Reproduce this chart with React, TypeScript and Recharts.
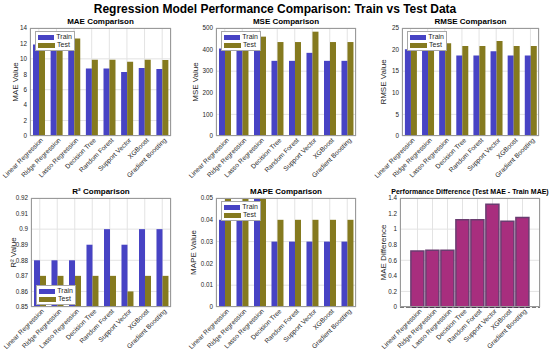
import React from 'react';
import { BarChart, Bar, XAxis, YAxis, CartesianGrid, ReferenceLine } from 'recharts';

const models = [
  'Linear Regression',
  'Ridge Regression',
  'Lasso Regression',
  'Decision Tree',
  'Random Forest',
  'Support Vector',
  'XGBoost',
  'Gradient Boosting',
];

const maeTrain = [11.85, 11.85, 11.9, 8.75, 8.75, 8.3, 8.8, 8.7];
const maeTest = [12.57, 12.58, 12.63, 9.87, 9.87, 9.62, 9.9, 9.85];
const mseTrain = [405, 405, 408, 348, 348, 385, 348, 348];
const mseTest = [455, 455, 460, 435, 435, 483, 435, 435];
const rmseTrain = [20.1, 20.1, 20.2, 18.65, 18.65, 19.6, 18.65, 18.65];
const rmseTest = [21.3, 21.3, 21.45, 20.85, 20.85, 22.0, 20.85, 20.85];
const r2Train = [0.88, 0.88, 0.88, 0.89, 0.9, 0.89, 0.9, 0.9];
const r2Test = [0.87, 0.87, 0.87, 0.87, 0.87, 0.86, 0.87, 0.87];
const mapeTrain = [0.04, 0.04, 0.05, 0.03, 0.03, 0.03, 0.03, 0.03];
const mapeTest = [0.05, 0.05, 0.05, 0.04, 0.04, 0.04, 0.04, 0.04];
const maeDiff = [0.72, 0.73, 0.73, 1.12, 1.12, 1.32, 1.1, 1.15];

const maeTicks = [0, 2, 4, 6, 8, 10, 12, 14];
const mseTicks = [0, 100, 200, 300, 400, 500];
const rmseTicks = [0, 5, 10, 15, 20, 25];
const r2Ticks = [0.85, 0.86, 0.87, 0.88, 0.89, 0.9, 0.91, 0.92];
const mapeTicks = [0, 0.01, 0.02, 0.03, 0.04, 0.05];
const diffTicks = [0, 0.2, 0.4, 0.6, 0.8, 1, 1.2, 1.4];

const FONT = '"Liberation Sans", Arial, Helvetica, sans-serif';
const TRAIN = '#4743c4';
const TEST = '#857a1f';
const TEXT = '#262626';

const fmt = (v: number) => String(Math.round(v * 1000) / 1000);

const AngledTick = (props: any) => {
  const { x, y, payload } = props;
  return (
    <g transform={`translate(${x + 3},${y + 1})`}>
      <text
        x={0}
        y={0}
        dy="0.35em"
        textAnchor="end"
        transform="rotate(-45)"
        fontSize={6.6}
        fontFamily={FONT}
        fill={TEXT}
      >
        {payload.value}
      </text>
    </g>
  );
};

const LEFT = 40;
const TOP = 20;
const XH = 42;
const BOTTOM = 6;

function LegendBox({ left, top }: { left: number; top: number }) {
  const row = (color: string, label: string) => (
    <div style={{ display: 'flex', alignItems: 'center', height: 8 }}>
      <div style={{ width: 17, height: 5, background: color, marginRight: 2 }} />
      <span>{label}</span>
    </div>
  );
  return (
    <div
      style={{
        position: 'absolute',
        left,
        top,
        width: 34,
        padding: '1px 2px',
        background: 'white',
        border: '1px solid #a8a8a8',
        fontSize: 7,
        fontFamily: FONT,
        color: TEXT,
        lineHeight: '8px',
      }}
    >
      {row(TRAIN, 'Train')}
      {row(TEST, 'Test')}
    </div>
  );
}

interface PanelProps {
  x: number;
  y: number;
  w: number;
  h: number;
  title: string;
  yLabel: string;
  labelDist: number;
  train: number[];
  test: number[];
  ticks: number[];
  legendBottom?: boolean;
}

const yLabelStyle = { fontSize: 8, fill: TEXT, fontFamily: FONT, textAnchor: 'middle' as const };
const yTick = { fontSize: 6.3, fill: TEXT, fontFamily: FONT };

function Panel({ x, y, w, h, title, yLabel, labelDist, train, test, ticks, legendBottom }: PanelProps) {
  const data = models.map((m, i) => ({ name: m, train: train[i], test: test[i] }));
  const domain = [ticks[0], ticks[ticks.length - 1]];
  return (
    <>
      <div
        style={{
          position: 'absolute',
          left: x,
          top: y - 11,
          width: w,
          textAlign: 'center',
          fontSize: 8,
          fontWeight: 'bold',
          fontFamily: FONT,
          color: '#000',
        }}
      >
        {title}
      </div>
      <div style={{ position: 'absolute', left: x - LEFT, top: y - TOP }}>
        <BarChart
          width={w + LEFT + 4}
          height={h + TOP + XH + BOTTOM}
          data={data}
          margin={{ top: TOP, right: 4, left: 0, bottom: BOTTOM }}
          barCategoryGap="17%"
          barGap={0}
        >
          <CartesianGrid stroke="#e3e3e3" />
          <XAxis
            dataKey="name"
            interval={0}
            height={XH}
            tick={<AngledTick />}
            tickLine={false}
            tickSize={0}
            tickMargin={2}
            axisLine={false}
          />
          <YAxis
            width={LEFT}
            domain={domain}
            ticks={ticks}
            allowDataOverflow
            tickFormatter={fmt}
            tick={yTick}
            tickSize={0}
            tickMargin={3}
            axisLine={false}
            label={{ value: yLabel, angle: -90, position: 'insideLeft', offset: LEFT - labelDist, style: yLabelStyle }}
          />
          <Bar dataKey="train" fill={TRAIN} isAnimationActive={false} />
          <Bar dataKey="test" fill={TEST} isAnimationActive={false} />
        </BarChart>
      </div>
      <div
        style={{
          position: 'absolute',
          left: x,
          top: y,
          width: w,
          height: h,
          border: '1px solid #9a9a9a',
          boxSizing: 'border-box',
          pointerEvents: 'none',
        }}
      />
      <LegendBox left={x + 5} top={legendBottom ? y + h - 22 : y + 3} />
    </>
  );
}

function DiffPanel({ x, y, w, h }: { x: number; y: number; w: number; h: number }) {
  const data = models.map((m, i) => ({ name: m, diff: maeDiff[i] }));
  return (
    <>
      <div
        style={{
          position: 'absolute',
          left: x - 30,
          top: y - 10,
          width: w + 60,
          textAlign: 'center',
          fontSize: 7,
          fontWeight: 'bold',
          fontFamily: FONT,
          color: '#000',
          whiteSpace: 'nowrap',
        }}
      >
        Performance Difference (Test MAE - Train MAE)
      </div>
      <div style={{ position: 'absolute', left: x - LEFT, top: y - TOP }}>
        <BarChart
          width={w + LEFT + 4}
          height={h + TOP + XH + BOTTOM}
          data={data}
          margin={{ top: TOP, right: 4, left: 0, bottom: BOTTOM }}
          barCategoryGap="6%"
        >
          <CartesianGrid stroke="#e3e3e3" />
          <XAxis
            dataKey="name"
            interval={0}
            height={XH}
            tick={<AngledTick />}
            tickLine={false}
            tickSize={0}
            tickMargin={2}
            axisLine={false}
            padding={{ left: 10, right: 10 }}
          />
          <YAxis
            width={LEFT}
            domain={[0, 1.4]}
            ticks={diffTicks}
            tickFormatter={fmt}
            tick={yTick}
            tickSize={0}
            tickMargin={3}
            axisLine={false}
            label={{ value: 'MAE Difference', angle: -90, position: 'insideLeft', offset: LEFT - 17, style: yLabelStyle }}
          />
          <Bar
            dataKey="diff"
            fill="#a82e7e"
            stroke="#6a3c70"
            strokeWidth={1.5}
            isAnimationActive={false}
          />
          <ReferenceLine y={0} stroke="#000" strokeDasharray="4 2" strokeWidth={1} />
        </BarChart>
      </div>
      <div
        style={{
          position: 'absolute',
          left: x,
          top: y,
          width: w,
          height: h,
          border: '1px solid #9a9a9a',
          boxSizing: 'border-box',
          pointerEvents: 'none',
        }}
      />
    </>
  );
}

export default function App() {
  return (
    <div
      style={{
        position: 'fixed',
        left: 0,
        top: 0,
        width: 550,
        height: 353,
        background: 'white',
        overflow: 'hidden',
      }}
    >
      <style>{'.recharts-surface { overflow: visible; } .recharts-wrapper { overflow: visible; }'}</style>
      <div
        style={{
          position: 'absolute',
          left: 0,
          top: 2,
          width: 550,
          textAlign: 'center',
          fontSize: 12,
          fontWeight: 'bold',
          fontFamily: FONT,
          color: '#000',
        }}
      >
        Regression Model Performance Comparison: Train vs Test Data
      </div>
      <Panel x={30} y={28} w={141} h={108} title="MAE Comparison" yLabel="MAE Value" labelDist={15} train={maeTrain} test={maeTest} ticks={maeTicks} />
      <Panel x={216} y={28} w={140} h={108} title="MSE Comparison" yLabel="MSE Value" labelDist={21} train={mseTrain} test={mseTest} ticks={mseTicks} />
      <Panel x={402} y={28} w={137} h={108} title="RMSE Comparison" yLabel="RMSE Value" labelDist={19} train={rmseTrain} test={rmseTest} ticks={rmseTicks} />
      <Panel x={31} y={198} w={140} h={109} title="R² Comparison" yLabel="R² Value" labelDist={18} train={r2Train} test={r2Test} ticks={r2Ticks} legendBottom />
      <Panel x={216} y={198} w={140} h={109} title="MAPE Comparison" yLabel="MAPE Value" labelDist={23} train={mapeTrain} test={mapeTest} ticks={mapeTicks} />
      <DiffPanel x={400} y={198} w={140} h={109} />
    </div>
  );
}
